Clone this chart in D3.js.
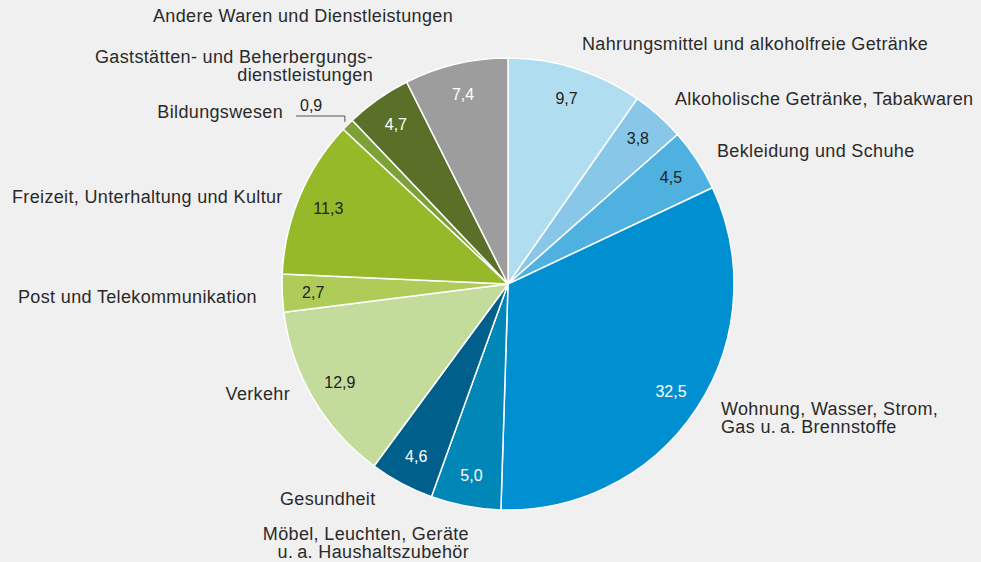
<!DOCTYPE html>
<html><head><meta charset="utf-8">
<script src="https://cdn.jsdelivr.net/npm/d3@7"></script>
<style>
html,body{margin:0;padding:0;background:#f0f0f0;}
svg{display:block;font-family:"Liberation Sans",Arial,Helvetica,sans-serif;}
</style></head>
<body>
<svg id="chart" width="981" height="562"></svg>
<script>
const categories = [
  "Nahrungsmittel und alkoholfreie Getränke",
  "Alkoholische Getränke, Tabakwaren",
  "Bekleidung und Schuhe",
  "Wohnung, Wasser, Strom, Gas u.\u2009a. Brennstoffe",
  "Möbel, Leuchten, Geräte u.\u2009a. Haushaltszubehör",
  "Gesundheit",
  "Verkehr",
  "Post und Telekommunikation",
  "Freizeit, Unterhaltung und Kultur",
  "Bildungswesen",
  "Gaststätten- und Beherbergungsdienstleistungen",
  "Andere Waren und Dienstleistungen"
];
const values = [9.7, 3.8, 4.5, 32.5, 5.0, 4.6, 12.9, 2.7, 11.3, 0.9, 4.7, 7.4];
const colors = ["#b0def0","#88c7e8","#4fb1df","#0090d2","#0087b7","#00608b",
                "#c3dc9c","#afcc58","#95b929","#7ca136","#5a6f27","#9d9d9d"];
const valueTextColors = ["#222","#222","#222","#fff","#fff","#fff",
                         "#222","#222","#222","#222","#fff","#fff"];
// Outer label lines (as printed)
const labelLines = [
  ["Nahrungsmittel und alkoholfreie Getränke"],
  ["Alkoholische Getränke, Tabakwaren"],
  ["Bekleidung und Schuhe"],
  ["Wohnung, Wasser, Strom,","Gas u.\u2009a. Brennstoffe"],
  ["Möbel, Leuchten, Geräte","u.\u2009a. Haushaltszubehör"],
  ["Gesundheit"],
  ["Verkehr"],
  ["Post und Telekommunikation"],
  ["Freizeit, Unterhaltung und Kultur"],
  ["Bildungswesen"],
  ["Gaststätten- und Beherbergungs-","dienstleistungen"],
  ["Andere Waren und Dienstleistungen"]
];
// Label layout (anchor point and alignment)
const labelLayout = [
  {x:582, y:50, a:"start"},
  {x:675, y:105, a:"start"},
  {x:717, y:157, a:"start"},
  {x:721, y:415, a:"start"},
  {x:469, y:540, a:"end"},
  {x:280, y:505, a:"start"},
  {x:290, y:400, a:"end"},
  {x:18,  y:303, a:"start"},
  {x:12,  y:203, a:"start"},
  {x:283, y:118, a:"end"},
  {x:373, y:63, a:"end"},
  {x:303, y:22, a:"middle"}
];

const svg = d3.select("#chart");
const cx = 508, cy = 284, R = 226;
const g = svg.append("g").attr("transform", `translate(${cx},${cy})`);

const pie = d3.pie().sort(null).value(d => d);
const arcs = pie(values);
const arc = d3.arc().innerRadius(0).outerRadius(R);
const labelArc = d3.arc().innerRadius(195).outerRadius(195);

g.selectAll("path").data(arcs).enter().append("path")
  .attr("d", arc)
  .attr("fill", (d,i) => colors[i])
  .attr("stroke", "#fff")
  .attr("stroke-width", 1.5)
  .attr("stroke-linejoin", "round");

const fmt = v => v.toFixed(1).replace(".", ",");

// value labels (except tiny slice)
g.selectAll("text.val").data(arcs).enter().filter((d,i) => i !== 9)
  .append("text").attr("class","val")
  .attr("transform", d => { const c = labelArc.centroid(d); return `translate(${c[0]},${c[1]})`; })
  .attr("text-anchor","middle").attr("dy","0.35em")
  .attr("font-size", 16)
  .attr("fill", (d) => valueTextColors[d.index])
  .text(d => fmt(d.data));

// small slice label with leader
{
  const d = arcs[9];
  const mid = (d.startAngle + d.endAngle) / 2;
  const px = Math.sin(mid) * (R + 4), py = -Math.cos(mid) * (R + 4);
  const lx = 296 - cx;
  const ly = 116 - cy;
  g.append("path")
    .attr("d", `M${lx},${ly}H${px}V${py}`)
    .attr("fill","none").attr("stroke","#555").attr("stroke-width",1);
  g.append("text").attr("x", lx + 4).attr("y", ly - 5)
    .attr("font-size", 16).attr("fill","#222").text(fmt(values[9]));
}

// outer labels
labelLines.forEach((lines, i) => {
  const L = labelLayout[i];
  const t = svg.append("text")
    .attr("x", L.x).attr("y", L.y)
    .attr("text-anchor", L.a)
    .attr("font-size", 18).attr("letter-spacing", 0.35).attr("fill", "#2a2a2a");
  lines.forEach((ln, j) => {
    t.append("tspan").attr("x", L.x).attr("dy", j === 0 ? 0 : 18).text(ln);
  });
});
</script>
</body></html>
